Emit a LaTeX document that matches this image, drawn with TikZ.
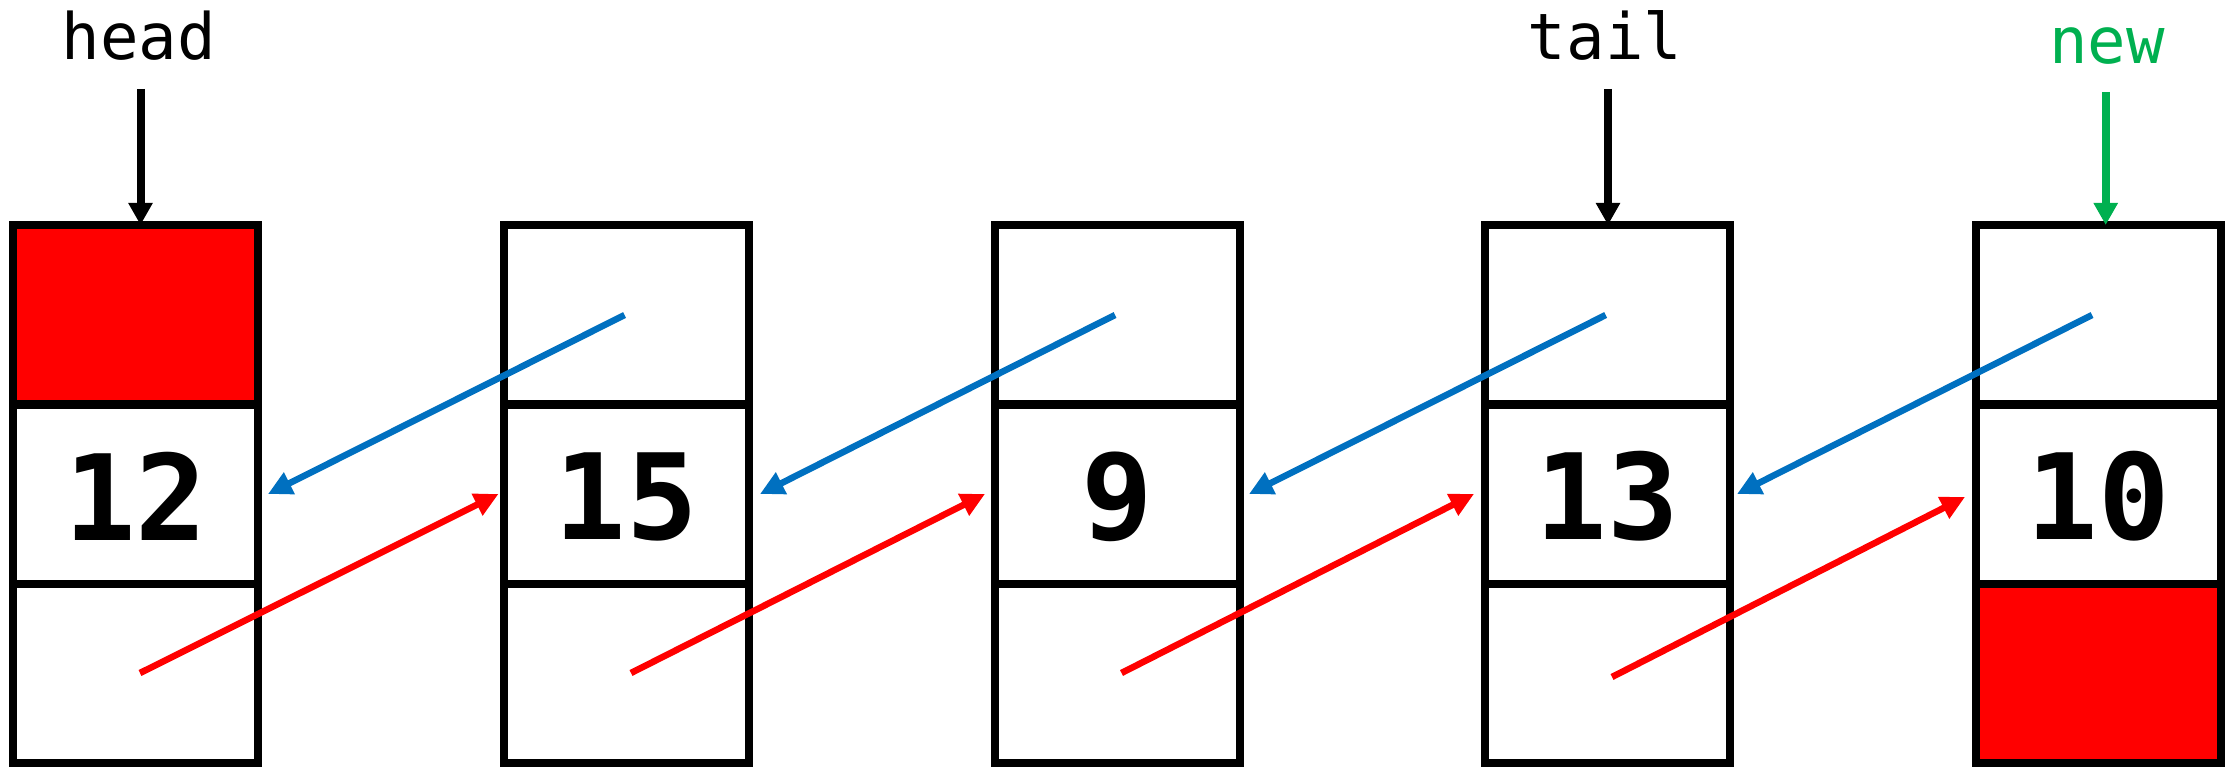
\documentclass[tikz,border=0pt]{standalone}
\usepackage{fontspec}
\usetikzlibrary{arrows.meta}
\newfontfamily\labfont{DejaVu Sans Mono}
\newfontfamily\numfont{DejaVu Sans Mono}
\definecolor{ptrblue}{RGB}{0,112,192}
\definecolor{ptrred}{RGB}{255,0,0}
\definecolor{ptrgreen}{RGB}{0,176,80}
\begin{document}
\begin{tikzpicture}[x=1pt,y=-1pt,
  cell/.style={draw=black,line width=8pt,minimum width=245pt,minimum height=179.5pt,inner sep=0pt,outer sep=0pt},
  nullcell/.style={cell,fill=ptrred},
  num/.style={font=\numfont\bfseries\fontsize{119}{119}\selectfont,inner sep=0pt},
  lab/.style={font=\labfont\fontsize{64}{64}\selectfont,inner sep=0pt,anchor=base},
  vptr/.style={line width=8pt,-{Triangle[length=22pt,width=23pt]}},
  nextptr/.style={ptrred,line width=6.5pt,-{Triangle[length=24pt,width=23pt]}},
  prevptr/.style={ptrblue,line width=6.5pt,-{Triangle[length=24pt,width=23pt]}}]
\useasboundingbox (0,0) rectangle (2236,767);
% node 1
\node[nullcell] (b1t) at (135.8,314.75) {};
\node[cell] (b1m) at (135.8,494) {};
\node[cell] (b1b) at (135.8,673.5) {};
% node 2
\node[cell] (b2t) at (626.4,314.75) {};
\node[cell] (b2m) at (626.4,494) {};
\node[cell] (b2b) at (626.4,673.5) {};
% node 3
\node[cell] (b3t) at (1117.0,314.75) {};
\node[cell] (b3m) at (1117.0,494) {};
\node[cell] (b3b) at (1117.0,673.5) {};
% node 4
\node[cell] (b4t) at (1607.6,314.75) {};
\node[cell] (b4m) at (1607.6,494) {};
\node[cell] (b4b) at (1607.6,673.5) {};
% node 5
\node[cell] (b5t) at (2098.2,314.75) {};
\node[cell] (b5m) at (2098.2,494) {};
\node[nullcell] (b5b) at (2098.2,673.5) {};
% values
\node[num] (v1) at (135.8,496.5) {12};
\node[num] (v2) at (626.4,496.5) {15};
\node[num] (v3) at (1117.0,496.5) {9};
\node[num] (v4) at (1607.6,496.5) {13};
\node[num] (v5) at (2098.2,496.5) {10};
% labels
\node[lab] (lhead) at (139,60) {head};
\node[lab] (ltail) at (1605,60) {tail};
\node[lab,text=ptrgreen] (lnew) at (2107,64) {new};
\coordinate (hs) at (140.5,89);
\coordinate (ts) at (1608,89);
\coordinate (ns) at (2105.7,92);
\draw[vptr] (hs) -- (hs |- b1t.north);
\draw[vptr] (ts) -- (ts |- b4t.north);
\draw[vptr,ptrgreen] (ns) -- (ns |- b5t.north);
% prev pointers (blue)
\coordinate (p2) at (624.6,315);
\coordinate (p3) at (1115,315);
\coordinate (p4) at (1605.7,315);
\coordinate (p5) at (2092,315);
\coordinate (q1) at (268,494);
\coordinate (q2) at (760,494);
\coordinate (q3) at (1249,494);
\coordinate (q4) at (1737,494);
\draw[prevptr] (p2) -- (q1);
\draw[prevptr] (p3) -- (q2);
\draw[prevptr] (p4) -- (q3);
\draw[prevptr] (p5) -- (q4);
% next pointers (red)
\coordinate (n1) at (140,673);
\coordinate (n2) at (631,673);
\coordinate (n3) at (1121.5,673);
\coordinate (n4) at (1612,677);
\coordinate (m2) at (498.5,494);
\coordinate (m3) at (985,494);
\coordinate (m4) at (1474,494);
\coordinate (m5) at (1965,497);
\draw[nextptr] (n1) -- (m2);
\draw[nextptr] (n2) -- (m3);
\draw[nextptr] (n3) -- (m4);
\draw[nextptr] (n4) -- (m5);
\end{tikzpicture}
\end{document}
